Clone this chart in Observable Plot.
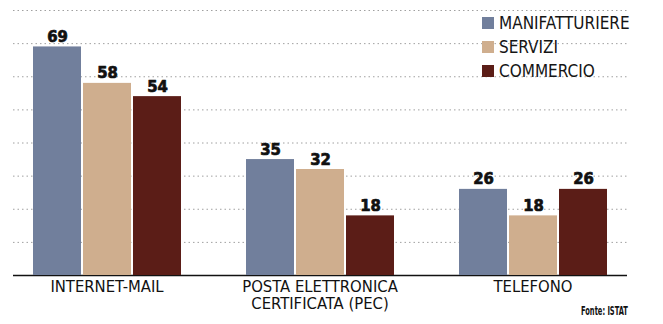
<!DOCTYPE html>
<html>
<head>
<meta charset="utf-8">
<script src="https://cdn.jsdelivr.net/npm/d3@7"></script>
<script src="https://cdn.jsdelivr.net/npm/@observablehq/plot@0.6"></script>
<style>
  html, body { margin: 0; padding: 0; background: #fff; }
  #wrap { position: relative; width: 663px; height: 324px; overflow: hidden; background: #fff; }
  #wrap svg { position: absolute; left: 0; top: 0; }
  #legend { position: absolute; left: 482px; top: 11px; font-family: "DejaVu Sans Condensed", sans-serif; font-size: 17px; color: #151515; }
  #legend .row { display: flex; align-items: center; height: 24px; }
  #legend .sw { width: 12px; height: 12px; margin-right: 5px; }
  #fonte { position: absolute; left: 581px; top: 304px; font-family: "DejaVu Sans Condensed", sans-serif; font-weight: bold; font-size: 12px; color: #111; transform: scaleX(0.62); transform-origin: left; white-space: nowrap; }
</style>
</head>
<body>
<div id="wrap">
  <div id="legend"></div>
  <div id="fonte">Fonte: ISTAT</div>
</div>
<script>
const categories = ["INTERNET-MAIL", "POSTA ELETTRONICA\nCERTIFICATA (PEC)", "TELEFONO"];
const series = ["MANIFATTURIERE", "SERVIZI", "COMMERCIO"];
const manifatturiere = [69, 35, 26];
const servizi = [58, 32, 18];
const commercio = [54, 18, 26];
const colors = ["#717f9c", "#cfae8e", "#5b1d17"];
const gridTicks = [10, 20, 30, 40, 50, 60, 70, 80];

const valuesBySeries = [manifatturiere, servizi, commercio];
const data = [];
categories.forEach((c, i) => {
  series.forEach((s, j) => data.push({category: c, series: s, value: valuesBySeries[j][i]}));
});

const common = {
  width: 663,
  height: 324,
  marginTop: 10,
  marginBottom: 49,
  marginLeft: 13,
  marginRight: 36,
  y: {domain: [0, 80], axis: null}
};

// background layer: dotted gridlines and baseline across the whole frame
const bg = Plot.plot({
  ...common,
  style: {background: "white"},
  marks: [
    Plot.ruleY(gridTicks, {stroke: "#a0a0a0", strokeWidth: 1, strokeDasharray: "1.5,3"}),
    Plot.ruleY([0], {stroke: "#111", strokeWidth: 1.6})
  ]
});

// foreground layer: grouped bars, value labels, category axis
const fg = Plot.plot({
  ...common,
  style: {background: "transparent"},
  fx: {domain: categories, paddingInner: 0.28, paddingOuter: 0.075, label: null},
  x: {domain: series, padding: 0.05, axis: null},
  color: {domain: series, range: colors},
  marks: [
    Plot.barY(data, {fx: "category", x: "series", y: "value", fill: "series"}),
    Plot.text(data, {fx: "category", x: "series", y: "value", text: d => String(d.value),
      dy: -5, lineAnchor: "bottom", fontSize: 16.5, fontWeight: "bold",
      fontFamily: "DejaVu Sans Condensed", fill: "#111", stroke: "#111", strokeWidth: 0.7}),
    Plot.axisFx({anchor: "bottom", tickSize: 0, tickPadding: 4, fontSize: 16.5, lineHeight: 1.06,
      fontFamily: "DejaVu Sans Condensed", fill: "#111", label: null})
  ]
});

const wrap = document.getElementById("wrap");
wrap.insertBefore(fg, wrap.firstChild);
wrap.insertBefore(bg, wrap.firstChild);

const legend = document.getElementById("legend");
series.forEach((s, i) => {
  const row = document.createElement("div");
  row.className = "row";
  const sw = document.createElement("div");
  sw.className = "sw";
  sw.style.background = colors[i];
  const t = document.createElement("span");
  t.textContent = s;
  row.appendChild(sw);
  row.appendChild(t);
  legend.appendChild(row);
});
</script>
</body>
</html>
